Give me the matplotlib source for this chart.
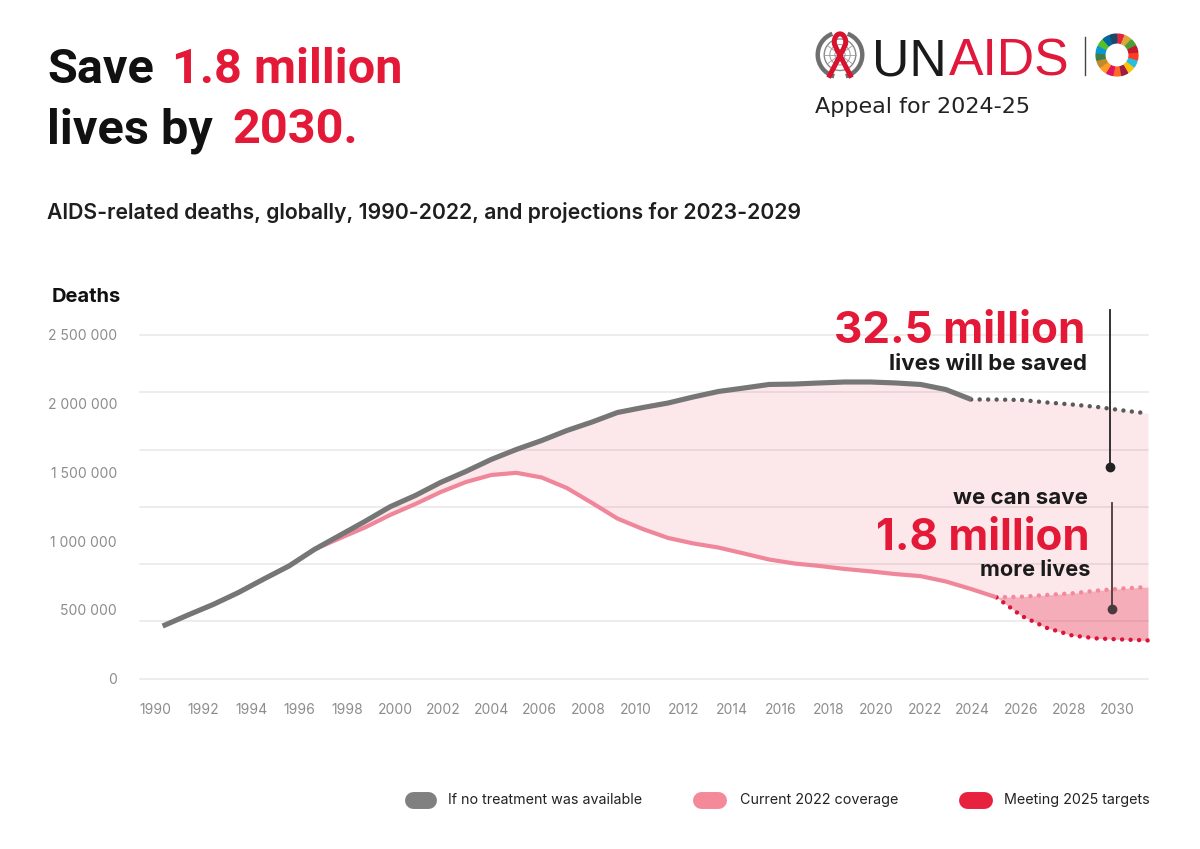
import matplotlib
matplotlib.use("Agg")
import matplotlib.pyplot as plt
import numpy as np
from matplotlib.lines import Line2D
from matplotlib.patches import Wedge, Circle, Arc

# ---------------- data ----------------
years_hist = list(range(1990, 2023))
no_treatment_hist = [382000, 462000, 539000, 626000, 724000, 819000, 939000, 1041000,
                     1143000, 1250000, 1332000, 1427000, 1507000, 1594000, 1667000,
                     1732000, 1805000, 1867000, 1936000, 1972000, 2005000, 2049000,
                     2089000, 2114000, 2140000, 2143000, 2151000, 2158000, 2158000,
                     2151000, 2140000, 2103000, 2031000]
years_proj = list(range(2023, 2030))
no_treatment_proj = [2030000, 2027000, 2009000, 1994000, 1976000, 1951000, 1929000]

years_cov_hist = list(range(1990, 2024))
coverage_hist = [382000, 462000, 539000, 626000, 724000, 819000, 939000, 1020000,
                 1099000, 1190000, 1270000, 1357000, 1430000, 1481000, 1497000,
                 1463000, 1386000, 1277000, 1164000, 1088000, 1023000, 983000,
                 953000, 910000, 866000, 837000, 819000, 797000, 780000, 760000,
                 745000, 706000, 651000, 591000]
years_cov_proj = list(range(2024, 2030))
coverage_proj = [595000, 608000, 620000, 640000, 655000, 666000]
targets_proj = [455000, 368000, 313000, 291000, 284000, 277000]

y_ticks = [0, 500000, 1000000, 1500000, 2000000, 2500000]
x_tick_years = list(range(1990, 2031, 2))
legend_labels = ["If no treatment was available", "Current 2022 coverage",
                 "Meeting 2025 targets"]

# ---------------- style ----------------
FONT = "Inter"
RED = "#e31937"
GRAY = "#767676"
GRAY_DOT = "#5d585a"
PINK = "#f0869a"
PINK_DOT = "#f2899d"
RED_DOT = "#db1438"
DARK = "#1b1b1b"

W, H = 1200, 849
fig = plt.figure(figsize=(12, 8.49), dpi=100)
fig.patch.set_facecolor("white")
renderer = fig.canvas.get_renderer()


def fx(px):
    return px / W


def fy(py):
    return 1 - py / H


def fit_size(s, target_px, **kw):
    """font size so that text s is target_px wide"""
    t = fig.text(0, 0, s, fontsize=40, **kw)
    w = t.get_window_extent(renderer).width
    t.remove()
    return 40 * target_px / w


def put(x0, x1, y, s, ha="left", **kw):
    size = fit_size(s, x1 - x0, **kw)
    xx = x0 if ha == "left" else x1
    return fig.text(fx(xx), fy(y), s, fontsize=size, ha=ha, va="baseline", **kw)


# ---------------- main axes ----------------
ax_left, ax_right, ax_top, ax_bottom = 140, 1148, 335, 678.5
ax = fig.add_axes([fx(ax_left), fy(ax_bottom), (ax_right - ax_left) / W,
                   (ax_bottom - ax_top) / H])
ax.set_xlim(1989.1, 2029.0)
ax.set_ylim(0, 2500000)
for s in ax.spines.values():
    s.set_visible(False)
ax.set_xticks([])
ax.set_yticks(y_ticks)
ax.set_yticklabels([f"{v:,}".replace(",", " ") for v in y_ticks],
                   fontfamily=FONT, fontsize=10, color="#8c8c8c")
ax.tick_params(axis="y", length=0, pad=16.5)

for g in np.linspace(0, 2500000, 7):
    ax.axhline(g, color="#e8e8e8", lw=1.1, zorder=0.5, clip_on=False)

gray_full_x = years_hist + years_proj
gray_full_y = no_treatment_hist + no_treatment_proj
pink_full_x = years_cov_hist + years_cov_proj
pink_full_y = coverage_hist + coverage_proj

ax.fill_between(gray_full_x, pink_full_y, gray_full_y, color=RED, alpha=0.10,
                lw=0, zorder=1)
ax.fill_between([years_cov_hist[-1]] + years_cov_proj,
                [coverage_hist[-1]] + targets_proj,
                [coverage_hist[-1]] + coverage_proj,
                color=RED, alpha=0.35, lw=0, zorder=1)

dots = (0, (0.01, 1.9))
ax.plot([years_hist[-1]] + years_proj, [no_treatment_hist[-1]] + no_treatment_proj,
        color=GRAY_DOT, lw=3.2, linestyle=dots, dash_capstyle="round", zorder=3,
        clip_on=False)
ax.plot([years_cov_hist[-1]] + years_cov_proj, [coverage_hist[-1]] + coverage_proj,
        color=PINK_DOT, lw=3.2, linestyle=dots, dash_capstyle="round", zorder=3,
        clip_on=False)
ax.plot([years_cov_hist[-1]] + years_cov_proj, [coverage_hist[-1]] + targets_proj,
        color=RED_DOT, lw=3.2, linestyle=dots, dash_capstyle="round", zorder=3,
        clip_on=False)
ax.plot(years_cov_hist, coverage_hist, color=PINK, lw=3.0, zorder=4,
        solid_capstyle="butt", solid_joinstyle="round")
ax.plot(years_hist, no_treatment_hist, color=GRAY, lw=3.7, zorder=5,
        solid_capstyle="butt", solid_joinstyle="round")

# secondary axis holding the year labels
ax2 = ax.twiny()
ax2.set_xlim(1989.376, 2031.29)
ax2.set_xticks(x_tick_years)
ax2.set_xticklabels([str(y) for y in x_tick_years], fontfamily=FONT,
                    fontsize=10, color="#8c8c8c")
ax2.xaxis.set_ticks_position("bottom")
ax2.xaxis.set_label_position("bottom")
ax2.tick_params(axis="x", length=0, pad=18)
for s in ax2.spines.values():
    s.set_visible(False)
ax2.patch.set_visible(False)

# ---------------- titles ----------------
TFONT = "Roboto"
tk = dict(fontfamily=TFONT, fontweight="bold")
tsize = 0.5 * (fit_size("1.8 million", 221, **tk) + fit_size("Save", 111, **tk))
fig.text(fx(47), fy(83), "Save", fontsize=tsize, color="#111111", va="baseline",
         ha="left", **tk)
fig.text(fx(172), fy(83), "1.8 million", fontsize=tsize, color=RED, va="baseline",
         ha="left", **tk)
fig.text(fx(47), fy(143), "lives by", fontsize=tsize, color="#111111",
         va="baseline", ha="left", **tk)
fig.text(fx(232), fy(143), "2030.", fontsize=tsize, color=RED, va="baseline",
         ha="left", **tk)

put(47, 802, 219,
    "AIDS-related deaths, globally, 1990-2022, and projections for 2023-2029",
    fontfamily=FONT, fontweight="semibold", color="#1e1e1e")
fig.text(fx(52), fy(302), "Deaths", fontfamily=FONT, fontweight="bold",
         fontsize=14.5, color="#111111", va="baseline", ha="left")

# ---------------- annotations ----------------
put(833, 1085, 343, "32.5 million", ha="right", fontfamily=FONT,
    fontweight="bold", color=RED)
put(889, 1087, 370, "lives will be saved", ha="right", fontfamily=FONT,
    fontweight="bold", color=DARK)
put(953, 1088, 504, "we can save", ha="right", fontfamily=FONT,
    fontweight="bold", color=DARK)
put(876, 1090, 550, "1.8 million", ha="right", fontfamily=FONT,
    fontweight="bold", color=RED)
put(980, 1090, 576, "more lives", ha="right", fontfamily=FONT,
    fontweight="bold", color=DARK)

fig.add_artist(Line2D([fx(1110), fx(1110)], [fy(310), fy(467)], color="#222222",
                      lw=1.3, transform=fig.transFigure))
fig.add_artist(Line2D([fx(1110)], [fy(467)], marker="o", markersize=6,
                      color="#222222", transform=fig.transFigure))
fig.add_artist(Line2D([fx(1112), fx(1112)], [fy(503), fy(609)], color="#4a3a3d",
                      lw=1.3, transform=fig.transFigure))
fig.add_artist(Line2D([fx(1112)], [fy(609)], marker="o", markersize=6,
                      color="#4a3a3d", transform=fig.transFigure))

# ---------------- legend ----------------
legend_colors = ["#808080", "#f4899a", "#e8213f"]
pill_x = [(404, 436), (692, 726), (958, 992)]
text_x = [448, 740, 1004]
for (x0, x1), tx, c, lab in zip(pill_x, text_x, legend_colors, legend_labels):
    fig.add_artist(Line2D([fx(x0 + 8.5), fx(x1 - 8.5)], [fy(800), fy(800)],
                          color=c, lw=12.2, solid_capstyle="round",
                          transform=fig.transFigure))
    fig.text(fx(tx), fy(800), lab, fontfamily=FONT, fontsize=10.3, color="#222222",
             va="center", ha="left")

# ---------------- logo ----------------
lsize = fit_size("UNAIDS", 195, fontfamily="Liberation Sans")
un = fig.text(fx(872), fy(75), "UN", fontfamily="Liberation Sans", fontsize=lsize,
              color="#1a1a1a", va="baseline", ha="left")
un_w = un.get_window_extent(renderer).width
fig.text(fx(872 + un_w + 2), fy(75), "AIDS", fontfamily="Liberation Sans",
         fontsize=lsize, color="#e0183c", va="baseline", ha="left")
fig.add_artist(Line2D([fx(1085), fx(1085)], [fy(37), fy(75)], color="#444444",
                      lw=1.0, transform=fig.transFigure))
put(815, 1030, 113, "Appeal for 2024-25", fontfamily="DejaVu Sans",
    color="#222222")

# SDG wheel
axw = fig.add_axes([fx(1094), fy(78), 46 / W, 46 / H])
axw.set_xlim(-1.1, 1.1)
axw.set_ylim(-1.1, 1.1)
axw.set_aspect("equal")
axw.axis("off")
sdg = ["#E5243B", "#DDA63A", "#4C9F38", "#C5192D", "#FF3A21", "#26BDE2",
       "#FCC30B", "#A21942", "#FD6925", "#DD1367", "#FD9D24", "#BF8B2E",
       "#3F7E44", "#0A97D9", "#56C02B", "#00689D", "#19486A"]
step = 360 / 17
for i, c in enumerate(sdg):
    start = 90 - (i + 1) * step
    axw.add_patch(Wedge((0, 0), 1.0, start + 1.2, start + step - 1.2, width=0.42,
                        color=c))

# UN emblem with red ribbon
axe = fig.add_axes([fx(812), fy(84), 56 / W, 56 / H])
axe.set_xlim(-1.1, 1.1)
axe.set_ylim(-1.1, 1.1)
axe.set_aspect("equal")
axe.axis("off")
axe.add_patch(Circle((0, 0.05), 0.62, fill=False, ec="#8a8a8a", lw=1.0))
axe.add_patch(Circle((0, 0.05), 0.4, fill=False, ec="#9a9a9a", lw=0.7))
axe.add_patch(Circle((0, 0.05), 0.2, fill=False, ec="#9a9a9a", lw=0.7))
for a in np.linspace(0, np.pi, 5, endpoint=False):
    axe.plot([0.62 * np.cos(a), -0.62 * np.cos(a)],
             [0.05 + 0.62 * np.sin(a), 0.05 - 0.62 * np.sin(a)],
             color="#9a9a9a", lw=0.6)
axe.add_patch(Arc((0, 0.05), 1.75, 1.75, theta1=110, theta2=255, color="#6f6f6f",
                  lw=3.2))
axe.add_patch(Arc((0, 0.05), 1.75, 1.75, theta1=285, theta2=70, color="#6f6f6f",
                  lw=3.2))
rib_x = np.concatenate([np.linspace(-0.45, 0.12, 20),
                        0.14 * np.cos(np.linspace(-0.3, np.pi + 0.3, 30)) * 1.6,
                        np.linspace(-0.12, 0.45, 20)])
rib_y = np.concatenate([np.linspace(-0.85, 0.25, 20),
                        0.55 + 0.32 * np.sin(np.linspace(-0.3, np.pi + 0.3, 30)),
                        np.linspace(0.25, -0.85, 20)])
axe.plot(rib_x, rib_y, color="#d8112f", lw=3.6, solid_capstyle="butt")

fig.savefig("out.png", dpi=100)
